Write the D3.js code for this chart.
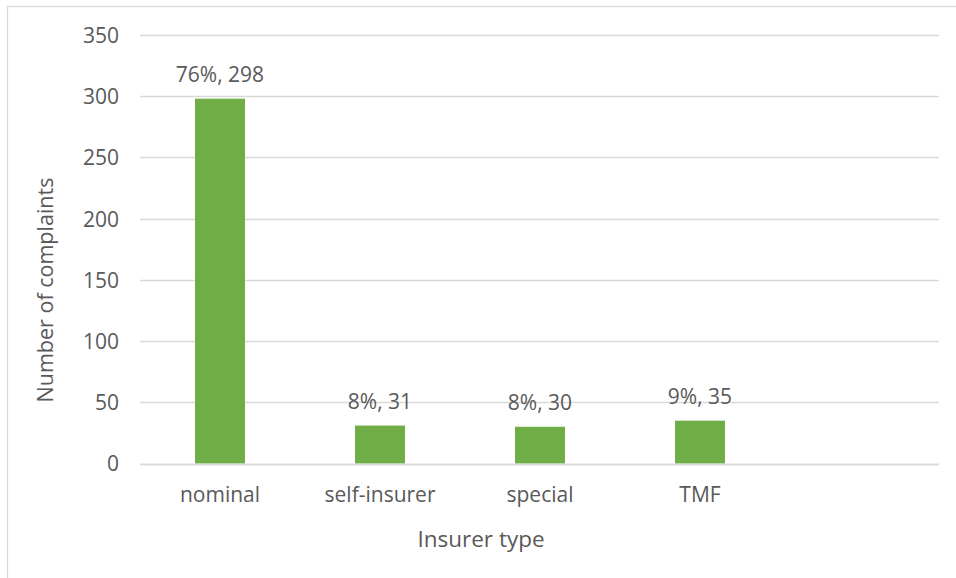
<!DOCTYPE html>
<html>
<head>
<meta charset="utf-8">
<script src="https://cdn.jsdelivr.net/npm/d3@7"></script>
<style>
  html, body { margin: 0; padding: 0; background: #fff; }
  svg { display: block; }
  text { font-family: "Open Sans", "Noto Sans", sans-serif; fill: #595959; }
</style>
</head>
<body>
<svg id="chart" width="956" height="578"></svg>
<script>
const categories = ["nominal", "self-insurer", "special", "TMF"];
const values = [298, 31, 30, 35];
const percentLabels = ["76%", "8%", "8%", "9%"];
const yTicks = [0, 50, 100, 150, 200, 250, 300, 350];

const svg = d3.select("#chart");

// chart border
svg.append("rect")
  .attr("x", 7.5).attr("y", 6.5)
  .attr("width", 1000).attr("height", 1000)
  .attr("fill", "none").attr("stroke", "#d9d9d9").attr("stroke-width", 1.3);

const plotLeft = 140, plotRight = 939, plotTop = 35, plotBottom = 463.5;
const step = 160;

const x = d3.scaleBand()
  .domain(categories)
  .range([plotLeft, plotLeft + step * categories.length])
  .paddingInner(110 / 160)
  .paddingOuter(55 / 160);

const y = d3.scaleLinear().domain([0, 350]).range([plotBottom, plotTop]);

// gridlines
svg.append("g")
  .selectAll("line")
  .data(yTicks)
  .join("line")
  .attr("x1", plotLeft).attr("x2", plotRight)
  .attr("y1", d => Math.round(y(d)) + 0.5).attr("y2", d => Math.round(y(d)) + 0.5)
  .attr("stroke", "#d9d9d9").attr("stroke-width", 1.3);

// y axis labels
const yAxis = d3.axisLeft(y).tickValues(yTicks).tickSize(0).tickPadding(0);
const yg = svg.append("g").attr("transform", `translate(${plotLeft - 21},0)`).call(yAxis);
yg.select(".domain").remove();
yg.selectAll("text")
  .attr("font-size", "21px")
  .attr("fill", "#595959")
  .attr("font-family", "'Open Sans', sans-serif")
  .attr("dy", "0.35em");

// bars
svg.append("g")
  .selectAll("rect")
  .data(values)
  .join("rect")
  .attr("x", (d, i) => x(categories[i]))
  .attr("y", d => y(d))
  .attr("width", x.bandwidth())
  .attr("height", d => y(0) - y(d))
  .attr("fill", "#70ad47");

// baseline
svg.append("line")
  .attr("x1", plotLeft).attr("x2", plotRight)
  .attr("y1", Math.round(y(0)) + 0.5).attr("y2", Math.round(y(0)) + 0.5)
  .attr("stroke", "#d9d9d9").attr("stroke-width", 1.5);

// data labels
svg.append("g")
  .selectAll("text")
  .data(values)
  .join("text")
  .attr("x", (d, i) => x(categories[i]) + x.bandwidth() / 2)
  .attr("y", d => y(d) - 17)
  .attr("text-anchor", "middle")
  .attr("font-size", "21px")
  .text((d, i) => `${percentLabels[i]}, ${d}`);

// x axis labels
const xAxis = d3.axisBottom(x).tickSize(0).tickPadding(0);
const xg = svg.append("g").attr("transform", `translate(0,${plotBottom + 24})`).call(xAxis);
xg.select(".domain").remove();
xg.selectAll("text")
  .attr("font-size", "21px")
  .attr("fill", "#595959")
  .attr("font-family", "'Open Sans', sans-serif")
  .attr("dy", "0.71em");

// axis titles
svg.append("text")
  .attr("x", 481).attr("y", 547)
  .attr("text-anchor", "middle")
  .attr("font-size", "22.5px")
  .text("Insurer type");

svg.append("text")
  .attr("transform", "translate(53,290) rotate(-90)")
  .attr("text-anchor", "middle")
  .attr("font-size", "21.5px")
  .text("Number of complaints");
</script>
</body>
</html>
